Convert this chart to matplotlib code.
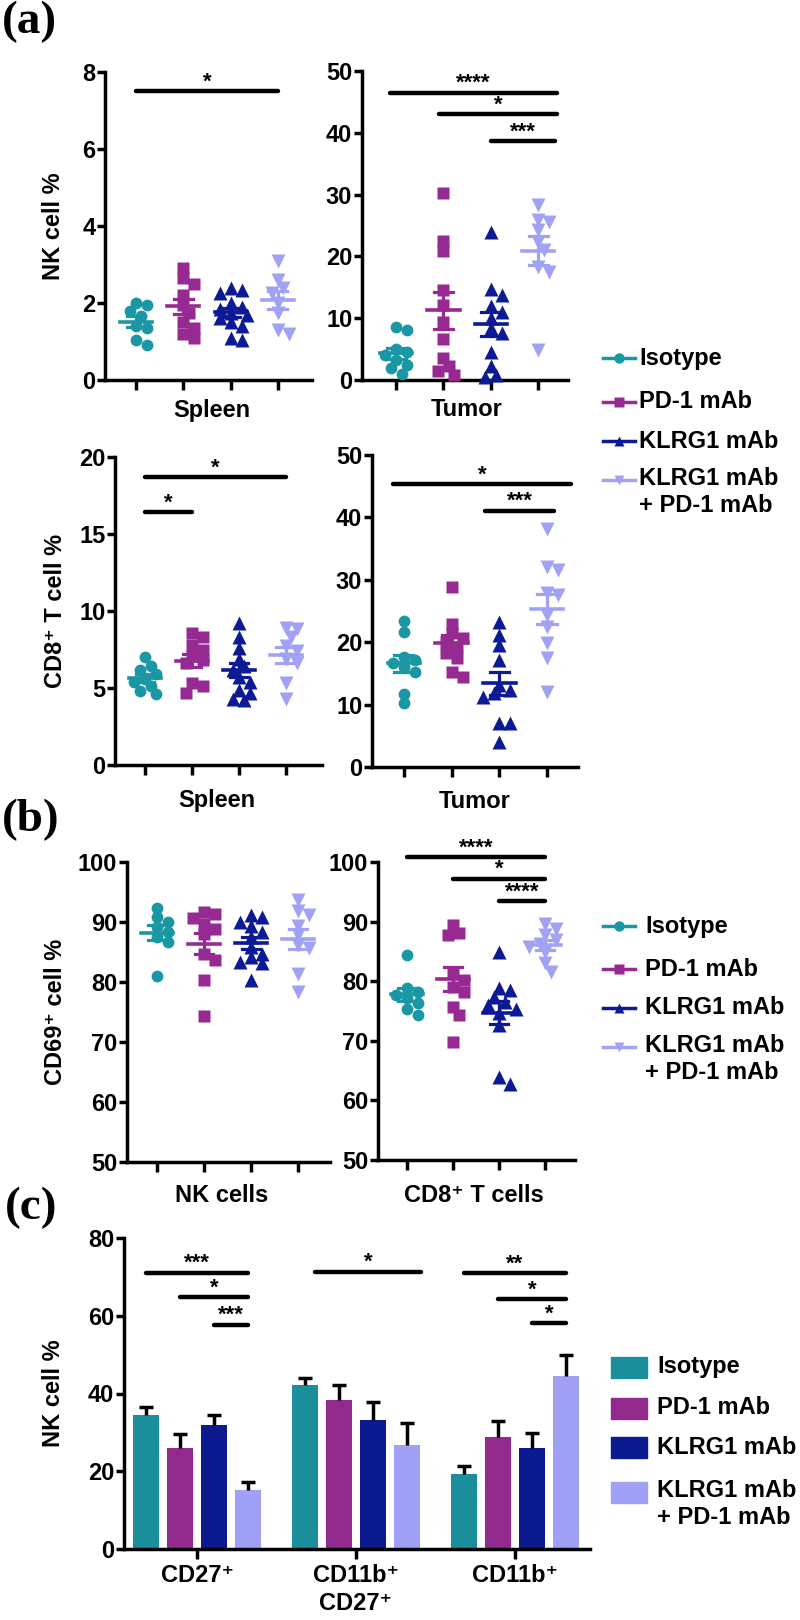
import numpy as np
import matplotlib
matplotlib.use("Agg")
import matplotlib.pyplot as plt
from matplotlib.patches import Rectangle

plt.rcParams['font.family'] = ['Liberation Sans', 'DejaVu Sans']
plt.rcParams['font.weight'] = 'bold'

# groups / colours
groups = ["Isotype", "PD-1 mAb", "KLRG1 mAb", "KLRG1 mAb\n+ PD-1 mAb"]
dot_colors = ["#1a97a4", "#962a92", "#0d1a96", "#a2a2f4"]
bar_colors = ["#1a8f9b", "#922a8e", "#0c1a90", "#a0a0f6"]
markers = ["o", "s", "^", "v"]

# (a) NK cell %  -- spleen / tumor
nk_spleen = [
    [2.0, 1.95, 1.8, 1.65, 1.4, 1.35, 1.05, 0.9],
    [2.9, 2.65, 2.5, 2.2, 1.95, 1.75, 1.5, 1.35, 1.2, 1.1],
    [2.4, 2.35, 2.25, 2.0, 1.9, 1.85, 1.75, 1.7, 1.6, 1.5, 1.4, 1.1, 1.05],
    [3.1, 2.6, 2.4, 2.25, 2.0, 1.75, 1.3, 1.2],
]
nk_tumor = [
    [8.6, 8.1, 5.0, 4.5, 4.0, 3.3, 2.5, 2.0, 1.0],
    [30.3, 22.5, 20.8, 14.6, 12.1, 9.4, 6.6, 3.5, 2.2, 1.4, 0.8],
    [24.0, 14.8, 13.8, 11.9, 11.0, 10.0, 8.4, 7.6, 4.6, 2.2, 0.8, 0.5],
    [28.3, 25.9, 25.6, 24.3, 22.4, 21.0, 18.3, 17.5, 4.9],
]
# (a) CD8+ T cell %
cd8_spleen = [
    [7.0, 6.4, 6.2, 5.9, 5.6, 5.4, 5.1, 4.8, 4.6],
    [8.6, 8.3, 7.8, 7.5, 7.1, 6.8, 6.6, 5.3, 5.1, 4.7],
    [9.2, 8.3, 7.6, 6.9, 6.4, 6.2, 5.7, 5.4, 4.9, 4.7, 4.3, 4.2],
    [8.9, 8.8, 8.3, 7.7, 7.4, 6.9, 6.6, 5.3, 4.3],
]
cd8_tumor = [
    [23.4, 21.7, 17.6, 17.1, 16.6, 16.0, 15.2, 11.7, 10.2],
    [28.8, 22.9, 21.4, 20.6, 20.1, 19.3, 18.2, 17.4, 15.2, 14.5],
    [23.3, 21.1, 19.6, 17.2, 13.1, 12.3, 11.8, 11.2, 7.0, 7.0, 4.0],
    [38.2, 32.1, 31.6, 27.9, 27.5, 24.3, 22.5, 19.8, 17.4, 12.0],
]
# (b) CD69+ cell %
cd69_nk = [
    [92.4, 90.8, 90.0, 89.2, 88.3, 87.5, 86.7, 81.0],
    [91.7, 91.4, 90.6, 89.7, 88.9, 88.0, 84.7, 83.7, 80.4, 74.4],
    [91.1, 90.8, 90.0, 89.4, 88.3, 87.5, 85.8, 84.7, 84.2, 83.3, 83.1, 80.3],
    [93.6, 91.9, 91.1, 89.4, 87.8, 86.1, 85.6, 81.4, 78.3],
]
cd69_cd8 = [
    [84.4, 78.9, 78.2, 77.7, 77.1, 76.3, 75.4, 74.3],
    [89.4, 88.1, 87.7, 81.3, 80.2, 79.1, 78.2, 75.7, 74.3, 69.8],
    [84.9, 78.8, 78.5, 77.4, 76.5, 76.0, 75.4, 74.6, 72.6, 64.0, 62.8],
    [89.6, 88.8, 87.7, 86.9, 86.3, 85.8, 84.9, 83.0, 81.6],
]
# (c) NK subsets: mean and SEM per group
subsets = ["CD27⁺", "CD11b⁺\nCD27⁺", "CD11b⁺"]
sub_mean = [
    [34.4, 42.3, 19.2],
    [26.0, 38.3, 28.9],
    [31.9, 33.1, 26.0],
    [15.3, 26.7, 44.5],
]
sub_sem = [
    [2.2, 1.8, 2.2],
    [3.5, 3.8, 4.0],
    [2.5, 4.6, 3.8],
    [2.0, 5.8, 5.4],
]

# significance: (x start, x end, y, label)
sig_nk_spleen = [(0, 3, 7.5, "*")]
sig_nk_tumor = [(-0.13, 3.4, 46.5, "****"), (0.9, 3.4, 43.0, "*"), (2.0, 3.35, 38.6, "***")]
sig_cd8_spleen = [(0, 3, 18.7, "*"), (0, 1, 16.4, "*")]
sig_cd8_tumor = [(-0.23, 3.5, 45.3, "*"), (1.7, 3.15, 41.1, "***")]
sig_cd69_cd8 = [(0, 3, 100.8, "****"), (1, 3, 97.2, "*"), (2, 3, 93.4, "****")]
sig_sub = [(0, 0, 3, 71.1, "***"), (0, 1, 3, 64.7, "*"), (0, 2, 3, 57.7, "***"),
           (1, 0.3, 3.4, 71.3, "*"),
           (2, 0, 3, 71.0, "**"), (2, 1, 3, 64.3, "*"), (2, 2, 3, 58.1, "*")]

W, H = 800, 1620
fig = plt.figure(figsize=(W / 100, H / 100), dpi=100)

FS = 17


def px_axes(left, top, right, bottom):
    return fig.add_axes([left / W, 1 - bottom / H, (right - left) / W, (bottom - top) / H])


def style(ax):
    for s in ["top", "right"]:
        ax.spines[s].set_visible(False)
    for s in ["left", "bottom"]:
        ax.spines[s].set_linewidth(2.5)
    ax.tick_params(width=2.5, length=6, labelsize=FS, pad=1)
    ax.tick_params(axis="x", length=7, labelbottom=False)
    ax.set_facecolor("none")


def swarm(vals, ppu_x, ppu_y, size=11.0):
    vals = np.asarray(vals, float)
    offs = np.zeros(len(vals))
    placed = []
    step = size * 0.5 / ppu_x
    for k in np.argsort(vals)[::-1]:
        y = vals[k]
        for j in range(60):
            cand = ((j + 1) // 2) * step * (1 if j % 2 else -1)
            if all(np.hypot((cand - ox) * ppu_x, (y - oy) * ppu_y) >= size * 0.85 for ox, oy in placed):
                break
        offs[k] = cand
        placed.append((cand, y))
    return offs


def sig_line(ax, x0, x1, y, label):
    ax.plot([x0, x1], [y, y], color="black", lw=3.2, solid_capstyle="round", clip_on=False, zorder=5)
    ax.annotate(label, xy=((x0 + x1) / 2, y), xytext=(0, -1), textcoords="offset points",
                ha="center", va="bottom", fontsize=16, fontweight="bold", annotation_clip=False)


def dot_panel(box, data, ylim, yticks, xlim, sigs):
    ax = px_axes(*box)
    style(ax)
    ax.set_xlim(*xlim)
    ax.set_ylim(*ylim)
    ax.set_yticks(yticks)
    ax.set_xticks(range(4))
    ppu_x = (box[2] - box[0]) / (xlim[1] - xlim[0])
    ppu_y = (box[3] - box[1]) / (ylim[1] - ylim[0])
    for i, vals in enumerate(data):
        vals = np.asarray(vals)
        offs = swarm(vals, ppu_x, ppu_y)
        ax.plot(i + offs, vals, ls="none", marker=markers[i], ms=9.5 if markers[i] in "^v" else 8.5,
                color=dot_colors[i], mec="none", zorder=3, clip_on=False)
        m = vals.mean()
        s = vals.std(ddof=1) / np.sqrt(len(vals))
        c = dot_colors[i]
        ax.plot([i - 0.34, i + 0.34], [m, m], color=c, lw=2.6, zorder=4)
        ax.plot([i, i], [m - s, m + s], color=c, lw=2.3, zorder=4)
        for yy in (m - s, m + s):
            ax.plot([i - 0.2, i + 0.2], [yy, yy], color=c, lw=2.3, zorder=4)
    for x0, x1, y, lab in sigs:
        sig_line(ax, x0, x1, y, lab)
    return ax


def ylabel(x, box, text):
    fig.text(x / W, 1 - (box[1] + box[3]) / 2 / H, text, rotation=90, ha="center", va="center", fontsize=FS)


def xlabel(x, y, text, **kw):
    fig.text(x / W, 1 - y / H, text, ha="center", va="center", fontsize=FS, **kw)


# ---- (a)
b1 = (105, 72, 312, 380)
dot_panel(b1, nk_spleen, (0, 8), [0, 2, 4, 6, 8], (-0.655, 3.72), sig_nk_spleen)
b2 = (362, 71, 568, 380)
dot_panel(b2, nk_tumor, (0, 50), range(0, 51, 10), (-0.72, 3.63), sig_nk_tumor)
b3 = (115, 457, 322, 765)
dot_panel(b3, cd8_spleen, (0, 20), [0, 5, 10, 15, 20], (-0.64, 3.77), sig_cd8_spleen)
b4 = (372, 455, 578, 767)
dot_panel(b4, cd8_tumor, (0, 50), range(0, 51, 10), (-0.67, 3.65), sig_cd8_tumor)
ylabel(53, b1, "NK cell %")
ylabel(55, b3, "CD8⁺ T cell %")
xlabel(212, 410, "Spleen")
xlabel(467, 410, "Tumor")
xlabel(217, 801, "Spleen")
xlabel(475, 801, "Tumor")

# ---- (b)
b5 = (127, 862, 330, 1162)
dot_panel(b5, cd69_nk, (50, 100), range(50, 101, 10), (-0.64, 3.68), [])
b6 = (378, 862, 575, 1160)
dot_panel(b6, cd69_cd8, (50, 100), range(50, 101, 10), (-0.63, 3.65), sig_cd69_cd8)
ylabel(55, b5, "CD69⁺ cell %")
xlabel(222, 1195, "NK cells")
xlabel(474, 1195, "CD8⁺ T cells")

# ---- (c)
b7 = (124, 1238, 590, 1549)
ax = px_axes(*b7)
style(ax)
ax.set_xlim(-0.459, 2.472)
ax.set_ylim(0, 80)
ax.set_yticks(range(0, 81, 20))
ax.set_xticks(range(3))
pitch, bw, cw = 0.214, 0.168, 0.042
xg = np.arange(3)
for i in range(4):
    xs = xg + (i - 1.5) * pitch
    mean = np.array(sub_mean[i])
    top = mean + np.array(sub_sem[i])
    ax.bar(xs, mean, width=bw, color=bar_colors[i], zorder=2)
    ax.vlines(xs, mean, top, color="black", lw=2.5, zorder=3)
    ax.hlines(top, xs - cw, xs + cw, color="black", lw=2.5, zorder=3)
for g, i0, i1, y, lab in sig_sub:
    sig_line(ax, g + (i0 - 1.5) * pitch, g + (i1 - 1.5) * pitch, y, lab)
ylabel(53, b7, "NK cell %")
for k, lab in enumerate(subsets):
    x_px = 197 + k * 159
    fig.text(x_px / W, 1 - 1564 / H, lab, ha="center", va="top", fontsize=FS, linespacing=1.3)

# ---- legends and panel letters (overlay in pixel units)
ov = fig.add_axes([0, 0, 1, 1])
ov.set_xlim(0, W)
ov.set_ylim(H, 0)
ov.axis("off")
for ys, xt in (([358, 402, 441, 480], 639), ([926, 969, 1008, 1047], 645)):
    for i, y in enumerate(ys):
        ov.plot([603, 635], [y, y], color=dot_colors[i], lw=2.5)
        ov.plot(619, y, marker=markers[i], ms=7.5, color=dot_colors[i], mec="none")
        ov.text(xt, y - 13 if i == 3 else y, groups[i], fontsize=FS,
                va="top" if i == 3 else "center", linespacing=1.2)
for i, y in enumerate([1367, 1408, 1447, 1492]):
    ov.add_patch(Rectangle((611, y - 10.5), 36, 21, color=bar_colors[i]))
    ov.text(657, y - 13 if i == 3 else y, groups[i], fontsize=FS, va="top" if i == 3 else "center",
            linespacing=1.2)

for lab, x, y in (("(a)", 2, 22), ("(b)", 2, 820), ("(c)", 5, 1208)):
    ov.text(x, y, lab, fontsize=34, va="center", family="Liberation Serif", fontweight="bold")

fig.savefig("out.png", dpi=100)
